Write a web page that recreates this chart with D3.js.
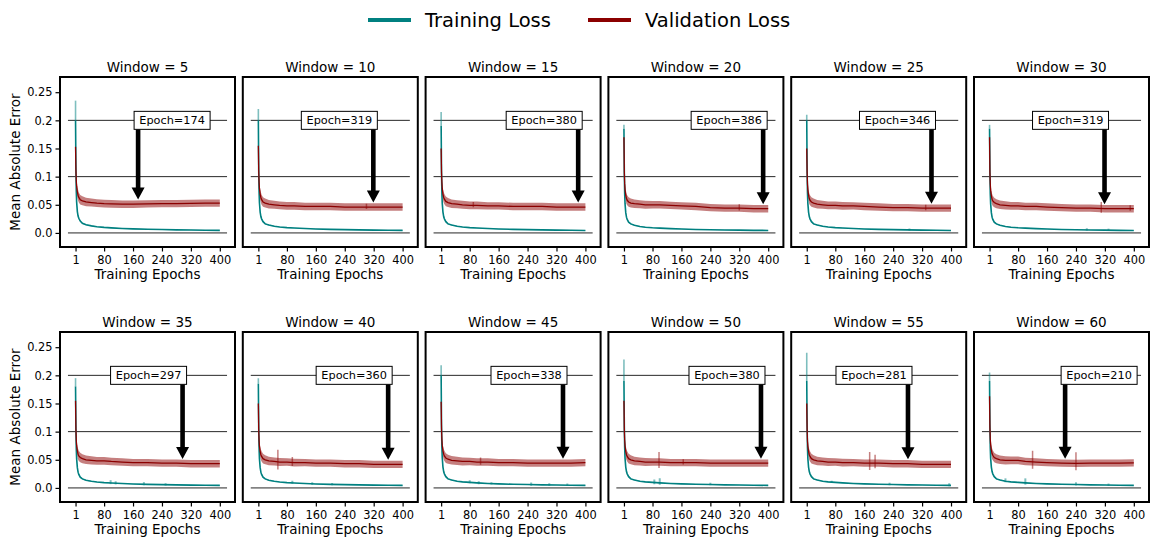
<!DOCTYPE html>
<html>
<head>
<meta charset="utf-8">
<script src="https://cdn.jsdelivr.net/npm/d3@7"></script>
<style>
  body { margin: 0; background: #ffffff; }
  text { font-family: "DejaVu Sans", sans-serif; fill: #000; }
</style>
</head>
<body>
<script>
// Panel labels and the epoch picked in each one.
var windows = [5, 10, 15, 20, 25, 30, 35, 40, 45, 50, 55, 60];
var bestEpoch = [174, 319, 380, 386, 346, 319, 297, 360, 338, 380, 281, 210];

var epochs = [1, 2, 3, 4, 6, 8, 10, 14, 20, 30, 45, 60, 80, 100, 130, 160, 200, 240, 280, 320, 360, 400];

var xTicks = [1, 80, 160, 240, 320, 400];
var yTicks = [0, 0.05, 0.1, 0.15, 0.2, 0.25];
var yTickLabels = ["0.0", "0.05", "0.1", "0.15", "0.2", "0.25"];
var refLines = [0, 0.1, 0.2];

// Training loss (mean), one row per window.
var trainLoss = [
  [0.200, 0.115, 0.075, 0.055, 0.038, 0.030, 0.026, 0.021, 0.017, 0.0145, 0.0125, 0.011, 0.0098, 0.009, 0.008, 0.0072, 0.0065, 0.006, 0.0055, 0.0051, 0.0048, 0.0045],
  [0.200, 0.112, 0.073, 0.054, 0.037, 0.029, 0.025, 0.020, 0.016, 0.0140, 0.0120, 0.0105, 0.0095, 0.0088, 0.0078, 0.0070, 0.0063, 0.0058, 0.0054, 0.0050, 0.0047, 0.0045],
  [0.190, 0.110, 0.072, 0.053, 0.037, 0.029, 0.025, 0.020, 0.016, 0.0140, 0.0120, 0.0105, 0.0095, 0.0088, 0.0078, 0.0070, 0.0063, 0.0058, 0.0054, 0.0050, 0.0047, 0.0044],
  [0.185, 0.108, 0.070, 0.052, 0.036, 0.028, 0.024, 0.019, 0.016, 0.0135, 0.0115, 0.0102, 0.0092, 0.0085, 0.0076, 0.0069, 0.0062, 0.0057, 0.0053, 0.0049, 0.0046, 0.0044],
  [0.200, 0.112, 0.072, 0.053, 0.037, 0.029, 0.025, 0.020, 0.016, 0.0140, 0.0120, 0.0105, 0.0095, 0.0088, 0.0078, 0.0070, 0.0063, 0.0058, 0.0054, 0.0050, 0.0047, 0.0044],
  [0.185, 0.108, 0.070, 0.052, 0.036, 0.028, 0.024, 0.019, 0.016, 0.0135, 0.0115, 0.0102, 0.0092, 0.0085, 0.0076, 0.0069, 0.0062, 0.0057, 0.0053, 0.0049, 0.0046, 0.0043],
  [0.180, 0.105, 0.070, 0.052, 0.036, 0.028, 0.024, 0.019, 0.016, 0.0135, 0.0118, 0.0105, 0.0095, 0.0088, 0.0078, 0.0070, 0.0063, 0.0058, 0.0054, 0.0050, 0.0047, 0.0045],
  [0.185, 0.108, 0.071, 0.052, 0.036, 0.028, 0.024, 0.019, 0.016, 0.0135, 0.0118, 0.0105, 0.0095, 0.0088, 0.0078, 0.0070, 0.0063, 0.0058, 0.0054, 0.0050, 0.0047, 0.0045],
  [0.200, 0.112, 0.073, 0.054, 0.037, 0.029, 0.025, 0.020, 0.016, 0.0140, 0.0120, 0.0108, 0.0098, 0.0090, 0.0080, 0.0072, 0.0065, 0.0060, 0.0055, 0.0051, 0.0048, 0.0045],
  [0.190, 0.110, 0.072, 0.053, 0.037, 0.029, 0.025, 0.020, 0.016, 0.0140, 0.0120, 0.0108, 0.0098, 0.0090, 0.0080, 0.0072, 0.0065, 0.0060, 0.0055, 0.0051, 0.0048, 0.0045],
  [0.190, 0.110, 0.072, 0.053, 0.037, 0.029, 0.025, 0.020, 0.016, 0.0140, 0.0120, 0.0108, 0.0098, 0.0090, 0.0080, 0.0072, 0.0065, 0.0060, 0.0055, 0.0051, 0.0048, 0.0045],
  [0.190, 0.110, 0.072, 0.053, 0.037, 0.029, 0.025, 0.020, 0.016, 0.0140, 0.0120, 0.0108, 0.0098, 0.0090, 0.0080, 0.0072, 0.0065, 0.0060, 0.0055, 0.0051, 0.0048, 0.0045]
];

// Top of the light training band at epoch 1.
var trainTop = [0.235, 0.220, 0.215, 0.192, 0.210, 0.192, 0.195, 0.195, 0.218, 0.228, 0.240, 0.205];

// Half width of the training band after epoch 1.
var trainSpread = [0, 0.012, 0.006, 0.004, 0.003, 0.002, 0.0015, 0.0012, 0.001, 0.0008, 0.0007, 0.0006, 0.0006, 0.0005, 0.0005, 0.0005, 0.0005, 0.0005, 0.0005, 0.0005, 0.0005, 0.0005];

// Validation loss (mean), one row per window.
var valLoss = [
  [0.153, 0.112, 0.093, 0.083, 0.073, 0.067, 0.063, 0.059, 0.057, 0.055, 0.054, 0.053, 0.052, 0.0515, 0.051, 0.051, 0.0515, 0.052, 0.052, 0.0525, 0.053, 0.053],
  [0.155, 0.110, 0.090, 0.079, 0.069, 0.063, 0.059, 0.055, 0.053, 0.051, 0.050, 0.049, 0.048, 0.048, 0.047, 0.047, 0.047, 0.046, 0.046, 0.046, 0.046, 0.046],
  [0.150, 0.108, 0.090, 0.079, 0.069, 0.063, 0.060, 0.056, 0.054, 0.052, 0.051, 0.050, 0.049, 0.049, 0.048, 0.048, 0.047, 0.047, 0.047, 0.046, 0.046, 0.046],
  [0.170, 0.110, 0.088, 0.077, 0.067, 0.061, 0.058, 0.055, 0.053, 0.052, 0.051, 0.050, 0.050, 0.050, 0.049, 0.048, 0.047, 0.045, 0.044, 0.044, 0.043, 0.043],
  [0.150, 0.108, 0.088, 0.077, 0.067, 0.061, 0.058, 0.055, 0.053, 0.051, 0.050, 0.049, 0.049, 0.048, 0.048, 0.047, 0.046, 0.045, 0.045, 0.044, 0.044, 0.044],
  [0.170, 0.108, 0.087, 0.076, 0.066, 0.060, 0.057, 0.054, 0.052, 0.050, 0.049, 0.048, 0.048, 0.047, 0.047, 0.046, 0.045, 0.044, 0.044, 0.043, 0.043, 0.043],
  [0.155, 0.105, 0.085, 0.075, 0.066, 0.060, 0.057, 0.054, 0.052, 0.050, 0.049, 0.048, 0.048, 0.047, 0.046, 0.045, 0.045, 0.044, 0.044, 0.043, 0.043, 0.043],
  [0.150, 0.104, 0.084, 0.074, 0.065, 0.059, 0.056, 0.052, 0.050, 0.048, 0.047, 0.046, 0.046, 0.045, 0.045, 0.044, 0.044, 0.043, 0.043, 0.042, 0.042, 0.042],
  [0.153, 0.106, 0.086, 0.076, 0.066, 0.060, 0.057, 0.053, 0.051, 0.049, 0.048, 0.047, 0.047, 0.046, 0.046, 0.045, 0.045, 0.044, 0.044, 0.044, 0.044, 0.045],
  [0.155, 0.105, 0.085, 0.075, 0.065, 0.059, 0.056, 0.052, 0.050, 0.048, 0.047, 0.046, 0.046, 0.046, 0.045, 0.045, 0.045, 0.044, 0.044, 0.044, 0.044, 0.044],
  [0.150, 0.104, 0.084, 0.074, 0.065, 0.059, 0.056, 0.052, 0.050, 0.048, 0.047, 0.046, 0.046, 0.045, 0.045, 0.044, 0.044, 0.043, 0.043, 0.042, 0.042, 0.042],
  [0.163, 0.108, 0.087, 0.077, 0.067, 0.061, 0.058, 0.054, 0.052, 0.050, 0.049, 0.049, 0.049, 0.047, 0.046, 0.045, 0.044, 0.0435, 0.044, 0.044, 0.044, 0.0445]
];

// Half width of the validation band.
var valSpread = [0.014, 0.013, 0.012, 0.011, 0.010, 0.0095, 0.009, 0.0085, 0.008, 0.0075, 0.0072, 0.007, 0.0068, 0.0068, 0.0066, 0.0066, 0.0065, 0.0065, 0.0065, 0.0065, 0.0065, 0.0065];

// Narrow bumps in the bands: [epoch, height].
var trainSpikes = [
  [], [], [], [],
  [[285, 0.003]],
  [[270, 0.003], [330, 0.003]],
  [[98, 0.005], [112, 0.004], [190, 0.004], [250, 0.003]],
  [[95, 0.004], [150, 0.003], [205, 0.003]],
  [[80, 0.004], [105, 0.004], [140, 0.003], [250, 0.004], [300, 0.003], [350, 0.003]],
  [[85, 0.006], [100, 0.008], [240, 0.003]],
  [[70, 0.003], [230, 0.003], [395, 0.004]],
  [[45, 0.005], [100, 0.008], [240, 0.004], [330, 0.003]]
];
var valSpikes = [
  [],
  [[300, 0.006]],
  [[90, 0.006]],
  [[320, 0.007]],
  [[330, 0.006]],
  [[310, 0.012], [390, 0.006]],
  [],
  [[55, 0.022], [95, 0.010]],
  [[110, 0.008]],
  [[98, 0.018], [165, 0.006]],
  [[175, 0.020], [190, 0.015]],
  [[120, 0.020], [240, 0.020]]
];

var trainColor = "#008080",
    valColor = "#8b0000";

function drawChart(){

  var W = 1150,
      H = 542;

  var svg = d3.select("body")
      .append("svg")
      .attr("width", W)
      .attr("height", H);

  // Panel geometry.
  var pw = 175,
      ph = 170,
      colStep = 182.8,
      rowTop = [77, 332];

  var x = d3.scaleLinear().domain([-42, 442]).range([0, pw]);
  var y = d3.scaleLinear().domain([-0.025, 0.277]).range([ph, 0]);

  // Legend.
  var legend = svg.append("g");
  var legendItems = [
    { name: "Training Loss", color: trainColor, x: 368 },
    { name: "Validation Loss", color: valColor, x: 588 }
  ];
  legendItems.forEach(function(d){
    legend.append("line")
        .attr("x1", d.x).attr("x2", d.x + 43)
        .attr("y1", 20).attr("y2", 20)
        .style("stroke", d.color)
        .style("stroke-width", 4);
    legend.append("text")
        .attr("x", d.x + 57)
        .attr("y", 27)
        .style("font-size", "19.5px")
        .text(d.name);
  });

  windows.forEach(function(win, p){
    var row = Math.floor(p / 6),
        col = p % 6;
    var g = svg.append("g")
        .attr("transform", "translate(" + (60 + col * colStep) + "," + rowTop[row] + ")");

    var clipId = "clip" + p;
    g.append("clipPath").attr("id", clipId)
      .append("rect").attr("width", pw).attr("height", ph);

    var plot = g.append("g").attr("clip-path", "url(#" + clipId + ")");

    // Reference lines at 0, 0.1, 0.2.
    plot.selectAll(".ref")
        .data(refLines)
      .enter().append("line")
        .attr("x1", x(-20)).attr("x2", x(420))
        .attr("y1", function(d){ return y(d); })
        .attr("y2", function(d){ return y(d); })
        .style("stroke", "#000")
        .style("stroke-opacity", 0.85)
        .style("stroke-width", 1);

    var tr = trainLoss[p],
        va = valLoss[p];

    // Training band.
    var trainArea = d3.area()
        .x(function(d, i){ return x(epochs[i]); })
        .y0(function(d, i){ return y(i === 0 ? d - 0.02 : d - trainSpread[i]); })
        .y1(function(d, i){ return y(i === 0 ? trainTop[p] : d + trainSpread[i]); });
    plot.append("path")
        .datum(tr)
        .attr("d", trainArea)
        .style("fill", trainColor)
        .style("fill-opacity", 0.45);

    // Light spread at the first epoch.
    plot.append("line")
        .attr("x1", x(epochs[0])).attr("x2", x(epochs[0]))
        .attr("y1", y(tr[0])).attr("y2", y(trainTop[p]))
        .style("stroke", trainColor)
        .style("stroke-opacity", 0.5)
        .style("stroke-width", 1.6);

    trainSpikes[p].forEach(function(s){
      var i = d3.bisectLeft(epochs, s[0]);
      var base = tr[Math.min(i, epochs.length - 1)];
      plot.append("line")
          .attr("x1", x(s[0])).attr("x2", x(s[0]))
          .attr("y1", y(base - s[1] * 0.4))
          .attr("y2", y(base + s[1]))
          .style("stroke", trainColor)
          .style("stroke-opacity", 0.5)
          .style("stroke-width", 2);
    });

    // Validation band.
    var valArea = d3.area()
        .x(function(d, i){ return x(epochs[i]); })
        .y0(function(d, i){ return y(d - valSpread[i]); })
        .y1(function(d, i){ return y(d + valSpread[i]); });
    plot.append("path")
        .datum(va)
        .attr("d", valArea)
        .style("fill", valColor)
        .style("fill-opacity", 0.5);

    valSpikes[p].forEach(function(s){
      var i = d3.bisectLeft(epochs, s[0]);
      var base = va[Math.min(i, epochs.length - 1)];
      plot.append("line")
          .attr("x1", x(s[0])).attr("x2", x(s[0]))
          .attr("y1", y(base - s[1] * 0.6))
          .attr("y2", y(base + s[1]))
          .style("stroke", valColor)
          .style("stroke-opacity", 0.5)
          .style("stroke-width", 1.5);
    });

    // Mean lines.
    var line = d3.line()
        .x(function(d, i){ return x(epochs[i]); })
        .y(function(d){ return y(d); });

    plot.append("path")
        .datum(tr)
        .attr("d", line)
        .style("fill", "none")
        .style("stroke", trainColor)
        .style("stroke-width", 1.6);

    plot.append("path")
        .datum(va)
        .attr("d", line)
        .style("fill", "none")
        .style("stroke", valColor)
        .style("stroke-width", 1.3);

    // Arrow from the label box down to the chosen epoch.
    var ep = bestEpoch[p];
    var k = d3.bisectLeft(epochs, ep);
    var t = (ep - epochs[k - 1]) / (epochs[k] - epochs[k - 1]);
    var vAt = va[k - 1] + t * (va[k] - va[k - 1]);
    var ax = x(ep),
        boxTop = y(0.2) - 9,
        boxBottom = y(0.2) + 9,
        tipY = y(vAt + 0.008),
        headLen = 12,
        headHalf = 6.5,
        shaftHalf = 2.3;

    g.append("path")
        .attr("d", "M" + (ax - shaftHalf) + "," + boxBottom +
                   "L" + (ax - shaftHalf) + "," + (tipY - headLen) +
                   "L" + (ax - headHalf) + "," + (tipY - headLen) +
                   "L" + ax + "," + tipY +
                   "L" + (ax + headHalf) + "," + (tipY - headLen) +
                   "L" + (ax + shaftHalf) + "," + (tipY - headLen) +
                   "L" + (ax + shaftHalf) + "," + boxBottom + "Z")
        .style("fill", "#000");

    var label = "Epoch=" + ep;
    var leftSide = ep > 250;
    var bw = 76;
    var bx = leftSide ? ax + 4 - bw : ax - 4;
    g.append("rect")
        .attr("x", bx).attr("y", boxTop)
        .attr("width", bw).attr("height", 18)
        .style("fill", "#fff")
        .style("stroke", "#000")
        .style("stroke-width", 1);
    g.append("text")
        .attr("x", bx + bw / 2)
        .attr("y", y(0.2) + 4)
        .attr("text-anchor", "middle")
        .style("font-size", "11.3px")
        .text(label);

    // Frame.
    g.append("rect")
        .attr("width", pw).attr("height", ph)
        .style("fill", "none")
        .style("stroke", "#000")
        .style("stroke-width", 2);

    // X axis.
    var xAxis = g.append("g")
        .attr("transform", "translate(0," + (ph + 1) + ")")
        .call(d3.axisBottom(x).tickValues(xTicks).tickSize(3.5).tickPadding(4));
    xAxis.select(".domain").remove();
    xAxis.selectAll("text").style("font-size", "11.4px").style("font-family", "DejaVu Sans");
    xAxis.selectAll("line").style("stroke-width", 1.2);

    g.append("text")
        .attr("x", pw / 2)
        .attr("y", ph + 32)
        .attr("text-anchor", "middle")
        .style("font-size", "13.5px")
        .text("Training Epochs");

    // Title.
    g.append("text")
        .attr("x", pw / 2)
        .attr("y", -5)
        .attr("text-anchor", "middle")
        .style("font-size", "13.5px")
        .text("Window = " + win);

    // Y axis on the first column only.
    if (col === 0) {
      var yAxis = g.append("g")
          .attr("transform", "translate(-1,0)")
          .call(d3.axisLeft(y).tickValues(yTicks).tickSize(3.5).tickPadding(3)
                .tickFormat(function(d, i){ return yTickLabels[i]; }));
      yAxis.select(".domain").remove();
      yAxis.selectAll("text").style("font-size", "11.4px").style("font-family", "DejaVu Sans");
      yAxis.selectAll("line").style("stroke-width", 1.2);

      g.append("text")
          .attr("transform", "translate(-40," + (ph / 2) + ") rotate(-90)")
          .attr("text-anchor", "middle")
          .style("font-size", "13.5px")
          .text("Mean Absolute Error");
    }
  });
}
drawChart();
</script>
</body>
</html>
